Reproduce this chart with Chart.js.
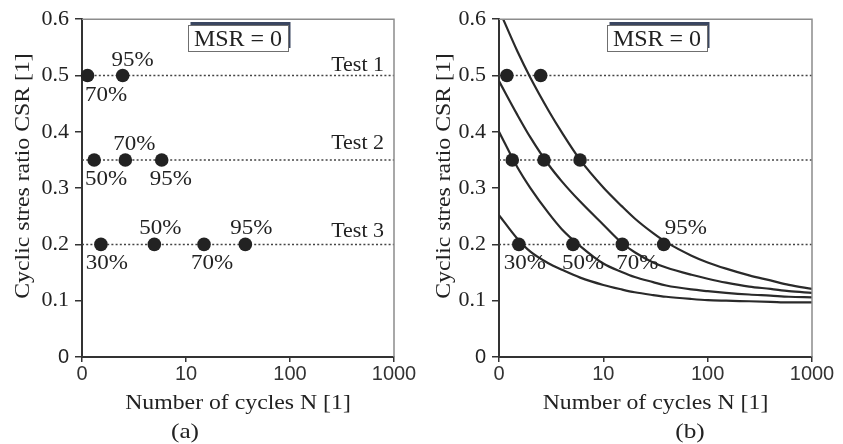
<!DOCTYPE html>
<html><head><meta charset="utf-8">
<script src="https://cdn.jsdelivr.net/npm/chart.js@4/dist/chart.umd.min.js"></script>
<style>
html,body{margin:0;padding:0;background:#fff;}
#wrap{position:relative;width:843px;height:444px;overflow:hidden;background:#fff;}
canvas{position:absolute;top:0;}
</style></head><body>
<div id="wrap">
<canvas id="ca" width="421" height="444" style="left:0px"></canvas>
<canvas id="cb" width="422" height="444" style="left:421px"></canvas>
</div>
<script>
// ---------------- data ----------------
const xTicks = [1, 10, 100, 1000];
const yTicks = [0, 0.1, 0.2, 0.3, 0.4, 0.5, 0.6];
const testNames = ['Test 1', 'Test 2', 'Test 3'];
const testCSR = [0.5, 0.35, 0.2];
const msrText = 'MSR = 0';
const xTitle = 'Number of cycles N [1]';
const yTitle = 'Cyclic stres ratio CSR [1]';

// panel (a): cycles at which the strain levels were reached
const aTest1N = [1.13, 2.46];
const aTest2N = [1.31, 2.61, 5.84];
const aTest3N = [1.52, 4.96, 14.9, 37.2];
const aTest1Pct = ['70%', '95%'];
const aTest2Pct = ['50%', '70%', '95%'];
const aTest3Pct = ['30%', '50%', '70%', '95%'];

// panel (b)
const bTest1N = [1.19, 2.51];
const bTest2N = [1.34, 2.70, 5.98];
const bTest3N = [1.55, 5.12, 15.2, 37.9];
const bTest3Pct = ['30%', '50%', '70%', '95%'];

// panel (b) fitted curves
const curveN  = [1, 1.5, 2, 3, 4, 6, 10, 15, 20, 30, 40, 70, 100, 150, 250, 400, 600, 1000];
const curve95 = [0.617, 0.543, 0.496, 0.437, 0.399, 0.350, 0.301, 0.268, 0.246, 0.220, 0.204, 0.180, 0.168, 0.157, 0.145, 0.136, 0.128, 0.121];
const curve70 = [0.490, 0.430, 0.390, 0.341, 0.312, 0.276, 0.235, 0.203, 0.186, 0.168, 0.159, 0.146, 0.139, 0.132, 0.125, 0.121, 0.117, 0.114];
const curve50 = [0.400, 0.337, 0.300, 0.255, 0.227, 0.197, 0.166, 0.151, 0.142, 0.133, 0.127, 0.120, 0.117, 0.114, 0.111, 0.109, 0.107, 0.106];
const curve30 = [0.252, 0.210, 0.187, 0.166, 0.155, 0.141, 0.128, 0.120, 0.115, 0.110, 0.107, 0.103, 0.101, 0.100, 0.099, 0.098, 0.097, 0.097];

// ---------------- styling ----------------
const SERIF = '"Liberation Serif", "Times New Roman", serif';
const SANS = '"Liberation Sans", Arial, sans-serif';
const INK = '#222';
const H = 444, PLOT_TOP = 18, PLOT_BOTTOM = 357;

function drawText(ctx, s, x, y, size, align, sx, rot) {
  ctx.save();
  ctx.font = size + 'px ' + SERIF;
  ctx.fillStyle = INK;
  ctx.textBaseline = 'alphabetic';
  ctx.textAlign = align;
  ctx.translate(x, y);
  if (rot) ctx.rotate(rot);
  ctx.scale(sx, 1);
  ctx.fillText(s, 0, 0);
  ctx.restore();
}
function textW(ctx, s, size, sx) {
  ctx.save(); ctx.font = size + 'px ' + SERIF;
  const w = ctx.measureText(s).width * sx; ctx.restore(); return w;
}

const zip = (xs, ys) => xs.map((v, i) => ({x: v, y: Array.isArray(ys) ? ys[i] : ys}));

function pointSet(ns, csr) {
  return { type: 'scatter', data: zip(ns, csr), pointRadius: 6.8, pointBackgroundColor: '#222',
           pointBorderWidth: 0, showLine: false, clip: false, order: 0 };
}
function dotLine(csr) {
  return { type: 'scatter', data: zip([1, 1000], csr), showLine: true, borderColor: '#444',
           borderWidth: 1.5, borderDash: [2, 2.2], pointRadius: 0, order: 2 };
}
function curve(vals) {
  return { type: 'scatter', data: zip(curveN, vals), showLine: true, borderColor: '#2a2a2a',
           borderWidth: 2.2, pointRadius: 0, cubicInterpolationMode: 'monotone', order: 1 };
}

function annoPlugin(cfg) {
  return {
    id: 'anno',
    afterDatasetsDraw(chart) {
      const ctx = chart.ctx, ca = chart.chartArea, xs = chart.scales.x, ys = chart.scales.y;
      // thin frame top/right
      ctx.save();
      ctx.strokeStyle = '#8c8c8c'; ctx.lineWidth = 1.5;
      ctx.beginPath(); ctx.moveTo(ca.left, ca.top); ctx.lineTo(ca.right, ca.top); ctx.lineTo(ca.right, ca.bottom); ctx.stroke();
      ctx.restore();
      // MSR box
      const bx = cfg.boxX, by = 25, bw = 100, bh = 26;
      ctx.save();
      ctx.fillStyle = '#3a4660'; ctx.fillRect(bx + 2.5, by - 3, bw, bh);
      ctx.fillStyle = '#fff'; ctx.fillRect(bx, by, bw, bh);
      ctx.strokeStyle = '#6f6f6f'; ctx.lineWidth = 1; ctx.strokeRect(bx + 0.5, by + 0.5, bw, bh);
      ctx.restore();
      drawText(ctx, msrText, bx + bw / 2, 45.5, 24, 'center', 1.0);
      // percentage labels
      cfg.labels.forEach(g => {
        g.n.forEach((n, i) => {
          const size = 20, sx = 1.15;
          const w = textW(ctx, g.txt[i], size, sx);
          let cx = xs.getPixelForValue(n) + g.dx[i];
          if (cx - w / 2 < ca.left + 3) cx = ca.left + 3 + w / 2;
          const ly = ys.getPixelForValue(g.csr) + (g.place[i] === 'above' ? -10 : 25);
          drawText(ctx, g.txt[i], cx, ly, size, 'center', sx);
        });
      });
      // test names
      if (cfg.testLabels) {
        testNames.forEach((t, i) => {
          drawText(ctx, t, ca.right - 10, ys.getPixelForValue(testCSR[i]) - cfg.testDy[i], 20, 'right', 1.1);
        });
      }
      // axis titles
      drawText(ctx, xTitle, (ca.left + ca.right) / 2, 408.5, 22, 'center', 1.08);
      drawText(ctx, yTitle, 29, 176, 22, 'center', 1.08, -Math.PI / 2);
      drawText(ctx, cfg.letter, cfg.letterX, 438, 22, 'center', 1.15);
    }
  };
}

function makeChart(id, W, plotLeft, plotRight, datasets, cfg) {
  return new Chart(document.getElementById(id), {
    type: 'scatter',
    data: { datasets },
    options: {
      responsive: false, animation: false, devicePixelRatio: 1,
      layout: { padding: { left: 0, right: W - plotRight, top: PLOT_TOP, bottom: 0 } },
      plugins: { legend: { display: false }, tooltip: { enabled: false } },
      events: [],
      scales: {
        x: {
          type: 'logarithmic', min: 1, max: 1000,
          afterBuildTicks: s => { s.ticks = xTicks.map(v => ({ value: v })); },
          afterFit: s => { s.height = H - PLOT_BOTTOM; },
          ticks: { autoSkip: false, maxRotation: 0, padding: 0, color: '#333',
                   font: { family: SANS, size: 20 }, callback: v => (v === 1 ? '0' : String(v)) },
          grid: { display: true, drawOnChartArea: false, drawTicks: true, tickLength: 5, color: '#333', lineWidth: 1.5 },
          border: { display: true, color: '#333', width: 2 }
        },
        y: {
          min: 0, max: 0.6,
          afterBuildTicks: s => { s.ticks = yTicks.map(v => ({ value: v })); },
          afterFit: s => { s.width = plotLeft; },
          ticks: { padding: 6, color: '#222',
                   font: c => (c.tick && c.tick.value === 0) ? { family: SANS, size: 20 } : { family: SERIF, size: 22 },
                   callback: v => (v === 0 ? '0' : v.toFixed(1)) },
          grid: { display: true, drawOnChartArea: false, drawTicks: true, tickLength: 7, color: '#333', lineWidth: 1.5 },
          border: { display: true, color: '#333', width: 2 }
        }
      }
    },
    plugins: [annoPlugin(cfg)]
  });
}

// panel (a)
makeChart('ca', 421, 82, 394, [
  dotLine(testCSR[0]), dotLine(testCSR[1]), dotLine(testCSR[2]),
  pointSet(aTest1N, testCSR[0]), pointSet(aTest2N, testCSR[1]), pointSet(aTest3N, testCSR[2])
], {
  boxX: 188, letter: '(a)', letterX: 185, testLabels: true, testDy: [5, 11, 7],
  labels: [
    { n: aTest1N, csr: testCSR[0], txt: aTest1Pct, place: ['below', 'above'], dx: [8, 10] },
    { n: aTest2N, csr: testCSR[1], txt: aTest2Pct, place: ['below', 'above', 'below'], dx: [8, 9, 9] },
    { n: aTest3N, csr: testCSR[2], txt: aTest3Pct, place: ['below', 'above', 'below', 'above'], dx: [6, 6, 8, 6] }
  ]
});

// panel (b)
makeChart('cb', 422, 78, 391, [
  dotLine(testCSR[0]), dotLine(testCSR[1]), dotLine(testCSR[2]),
  curve(curve95), curve(curve70), curve(curve50), curve(curve30),
  pointSet(bTest1N, testCSR[0]), pointSet(bTest2N, testCSR[1]), pointSet(bTest3N, testCSR[2])
], {
  boxX: 186, letter: '(b)', letterX: 269, testLabels: false,
  labels: [
    { n: bTest3N, csr: testCSR[2], txt: bTest3Pct, place: ['below', 'below', 'below', 'above'], dx: [6, 10, 15, 22] }
  ]
});
</script>
</body></html>
